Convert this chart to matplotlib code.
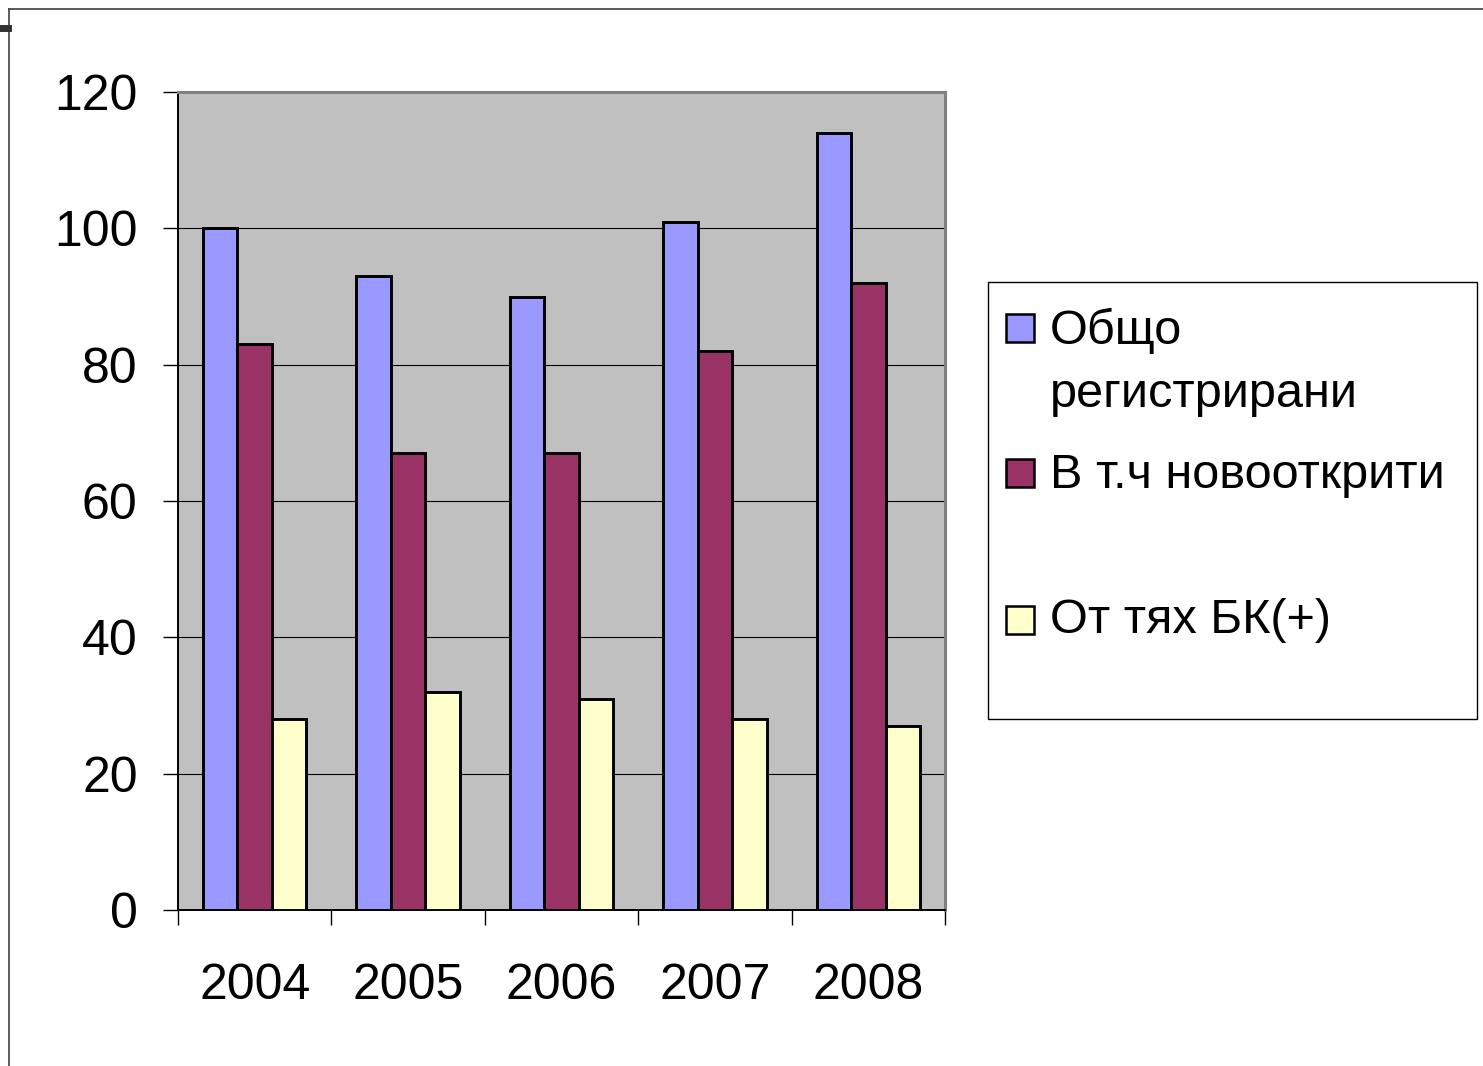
import numpy as np
import matplotlib
matplotlib.use("Agg")
import matplotlib.pyplot as plt
from matplotlib.patches import Rectangle
from matplotlib.lines import Line2D

plt.rcParams["font.family"] = ["Liberation Sans", "DejaVu Sans"]

# ── data ──────────────────────────────────────────────────────────────────────
years = ["2004", "2005", "2006", "2007", "2008"]
total = [100, 93, 90, 101, 114]
new_cases = [83, 67, 67, 82, 92]
bk_pos = [28, 32, 31, 28, 27]
series_labels = ["Общо\nрегистрирани", "В т.ч новооткрити", "От тях БК(+)"]
colors = ["#9999FF", "#993366", "#FFFFCC"]

W, H = 1483, 1066
fig = plt.figure(figsize=(W / 100, H / 100), dpi=100)
ax = fig.add_axes([178 / W, 1 - 910 / H, (945 - 178) / W, (910 - 92) / H])
ax.set_facecolor("#C0C0C0")

x = np.arange(len(years))
bw = 0.225
for j, vals in enumerate([total, new_cases, bk_pos]):
    ax.bar(x + (j - 1) * bw, vals, width=bw, color=colors[j],
           edgecolor="black", linewidth=2.1, zorder=3)

ax.set_xlim(-0.5, len(years) - 0.5)
ax.set_ylim(0, 120)
ax.set_yticks(range(0, 121, 20))
ax.yaxis.grid(True, color="black", linewidth=0.8, zorder=0)
ax.set_axisbelow(True)

ax.set_xticks(x)
ax.set_xticklabels(years)
ax.set_xticks(np.arange(-0.5, len(years)), minor=True)
ax.tick_params(axis="x", which="major", length=0, pad=38, labelsize=36)
ax.tick_params(axis="x", which="minor", length=11, width=1, color="black")
ax.tick_params(axis="y", length=11, width=1, pad=18, labelsize=36)

for s in ["top", "right"]:
    ax.spines[s].set_color("#808080")
    ax.spines[s].set_linewidth(2.2)
for s in ["left", "bottom"]:
    ax.spines[s].set_color("black")
    ax.spines[s].set_linewidth(1.4)

# ── legend (drawn by hand to keep the original spacing) ───────────────────────
def fx(px):
    return px / W

def fy(py):
    return 1 - py / H

fig.patches.append(Rectangle((fx(988), fy(719)), (1477 - 988) / W, (719 - 282) / H,
                             transform=fig.transFigure, facecolor="white",
                             edgecolor="black", linewidth=1))
sq_bottoms = [342, 487, 634]
baselines = [[344, 407], [488], [633]]
for j, lab in enumerate(series_labels):
    fig.patches.append(Rectangle((fx(1006), fy(sq_bottoms[j])), 28 / W, 28 / H,
                                 transform=fig.transFigure, facecolor=colors[j],
                                 edgecolor="black", linewidth=1.8))
    for line, b in zip(lab.split("\n"), baselines[j]):
        fig.text(fx(1050), fy(b), line, fontsize=35, va="baseline", ha="left")

# ── slide frame ───────────────────────────────────────────────────────────────
fig.add_artist(Line2D([fx(9), 1], [fy(9), fy(9)], color="#404040", linewidth=1.2))
fig.add_artist(Line2D([fx(9), fx(9)], [fy(9), 0], color="#404040", linewidth=1.2))
fig.add_artist(Line2D([0, fx(8)], [fy(28), fy(28)], color="#333333", linewidth=5))

fig.savefig("out.png", dpi=100)
